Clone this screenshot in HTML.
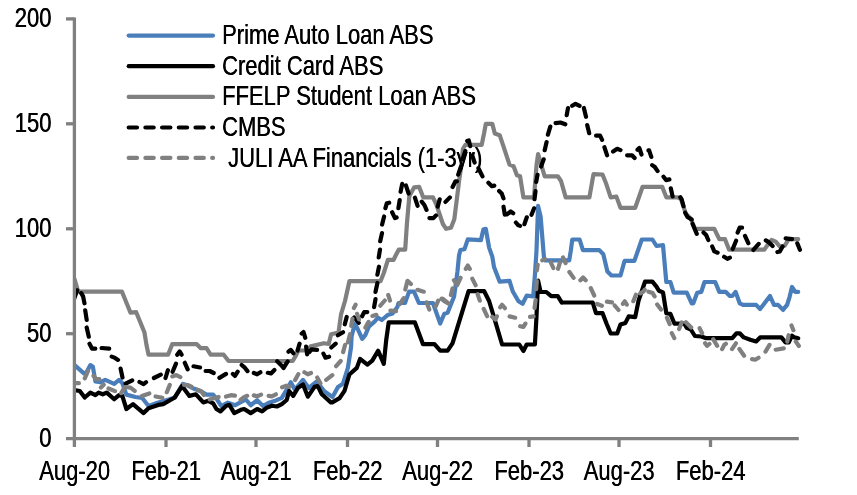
<!DOCTYPE html>
<html><head><meta charset="utf-8"><title>Spread chart</title>
<style>
html,body{margin:0;padding:0;background:#fff;}
svg{display:block;}
text{font-family:"Liberation Sans",Arial,sans-serif;font-size:26.8px;fill:#000;text-shadow:0.4px 0 0 #000;}
.ln{fill:none;stroke-width:4.2;stroke-linejoin:round;stroke-linecap:round;}
.ds{stroke-dasharray:8.3 8.4;}
</style></head><body>
<svg width="857" height="495" viewBox="0 0 857 495">
<rect width="857" height="495" fill="#fff"/>
<defs><clipPath id="plot"><rect x="73" y="0" width="784" height="440"/></clipPath></defs>
<g clip-path="url(#plot)">
<path class="ln" stroke="#4a7ebb" stroke-width="4.5" d="M74.6,365.1 L83.9,373.3 L86.4,372.5 L90.4,365.1 L92.9,366.8 L95.4,381.5 L100.3,382.3 L105.2,379.9 L114.2,383.9 L119.1,379.9 L122.3,383.1 L126.4,394.6 L135.4,397.0 L142.0,397.8 L148.5,406.0 L155.0,403.6 L174.7,397.8 L182.9,383.9 L187.8,385.6 L194.3,388.8 L200.8,391.3 L206.5,394.6 L213.1,394.6 L216.4,398.7 L221.3,406.0 L227.8,402.7 L235.2,405.2 L245.8,399.5 L250.7,405.2 L257.2,400.3 L263.0,406.0 L268.7,402.7 L274.4,401.1 L281.8,397.8 L286.7,389.7 L290.8,382.3 L294.9,389.7 L303.0,379.9 L308.8,388.0 L316.9,381.5 L324.3,391.3 L332.5,397.0 L338.0,387.0 L342.9,383.8 L347.8,368.2 L351.1,347.0 L351.6,336.4 L354.9,323.3 L358.1,329.9 L362.2,338.8 L365.5,334.8 L368.8,326.6 L374.5,321.7 L377.8,317.6 L381.8,320.0 L387.6,315.1 L392.5,313.5 L397.4,307.0 L398.5,303.0 L405.0,303.0 L409.1,291.6 L414.0,291.6 L418.9,303.0 L432.9,303.0 L440.2,323.5 L444.3,313.7 L447.6,312.8 L454.1,296.5 L457.4,272.0 L459.0,255.6 L460.4,250.0 L464.5,249.2 L467.8,239.4 L480.9,240.2 L483.3,229.6 L485.8,228.8 L489.1,247.6 L492.3,256.6 L494.0,267.0 L499.7,281.7 L509.5,280.9 L512.8,291.5 L518.5,301.3 L522.6,303.8 L526.7,295.6 L533.2,296.4 L534.9,275.1 L536.5,250.6 L538.1,205.9 L540.6,216.5 L543.9,256.6 L544.7,260.4 L569.2,260.4 L570.8,250.6 L572.3,239.5 L579.6,239.5 L582.9,250.1 L599.3,250.1 L603.3,254.2 L607.4,271.4 L611.5,275.5 L620.5,275.5 L624.6,260.8 L634.4,260.8 L641.8,239.5 L652.4,239.5 L656.5,246.0 L663.0,245.2 L666.3,282.0 L670.4,282.0 L673.7,292.7 L686.8,292.7 L691.7,303.3 L693.3,303.3 L697.2,292.7 L701.3,291.9 L704.5,282.0 L715.2,282.0 L719.3,291.9 L725.8,291.9 L729.9,296.0 L732.3,296.0 L735.6,291.9 L739.7,303.3 L743.0,304.9 L756.1,304.9 L760.1,309.0 L770.0,296.0 L774.0,304.9 L778.1,304.9 L783.0,309.9 L787.1,304.9 L789.6,296.8 L792.0,287.0 L795.3,291.9 L798.2,291.9"/>
<path class="ln" stroke="#000" stroke-width="4.7" d="M74.6,390.2 L79.8,391.0 L84.7,397.5 L90.4,392.6 L95.4,395.1 L98.6,392.6 L102.7,394.3 L106.8,392.6 L114.2,399.2 L119.1,395.1 L122.3,395.9 L126.4,409.0 L133.0,404.1 L143.6,413.1 L148.5,408.2 L158.3,404.9 L163.2,404.1 L174.7,397.5 L182.0,386.1 L189.4,395.9 L195.9,394.3 L203.3,402.4 L208.2,400.8 L213.1,403.3 L216.4,409.0 L220.4,411.4 L226.2,405.7 L229.4,404.9 L234.3,413.1 L240.9,409.8 L244.2,409.0 L250.7,413.1 L257.2,409.0 L262.1,411.4 L267.1,407.4 L272.0,405.7 L276.9,406.5 L281.8,404.1 L286.7,400.0 L289.1,391.0 L293.2,395.9 L298.1,387.7 L303.0,384.5 L307.9,396.7 L314.5,386.9 L317.8,386.1 L321.8,394.3 L330.8,402.4 L332.3,402.3 L339.6,398.2 L344.5,390.8 L349.4,374.5 L356.8,367.9 L360.1,358.9 L367.4,364.6 L372.3,360.6 L378.1,350.7 L383.8,363.8 L386.2,340.1 L388.7,322.4 L414.9,322.4 L423.0,344.2 L434.5,344.2 L440.2,350.7 L447.6,350.7 L452.5,343.4 L468.6,291.2 L484.2,291.2 L489.1,301.0 L494.8,319.9 L502.1,344.5 L519.3,344.5 L523.4,351.0 L526.7,344.5 L534.9,344.5 L536.5,316.7 L538.1,280.6 L540.6,292.0 L546.3,292.0 L551.2,296.1 L557.8,296.1 L561.8,302.6 L563.3,302.5 L592.7,302.5 L596.0,313.1 L602.5,313.1 L606.6,323.7 L610.7,333.5 L617.2,333.5 L620.5,324.6 L625.4,322.9 L628.7,316.4 L635.2,317.2 L638.5,300.8 L645.0,281.7 L652.4,281.7 L656.5,286.6 L658.9,290.7 L663.0,292.4 L666.3,313.1 L670.4,313.9 L674.5,323.7 L684.3,323.7 L686.8,327.8 L690.8,329.5 L694.9,336.0 L701.3,336.5 L706.2,338.2 L732.3,338.2 L736.4,333.3 L739.7,333.3 L743.8,337.4 L750.3,339.8 L756.1,341.4 L760.1,337.4 L781.4,337.4 L785.5,342.3 L788.8,342.3 L792.0,335.7 L794.5,337.4 L798.2,338.2"/>
<path class="ln" stroke="#808080" stroke-width="4.3" d="M74.5,279.0 L78.2,291.7 L122.0,291.7 L130.5,312.7 L136.2,312.2 L144.4,332.2 L146.5,345.0 L148.5,354.7 L168.1,354.7 L172.2,344.2 L196.8,344.2 L200.8,348.2 L206.5,348.2 L210.6,354.7 L223.7,354.7 L228.6,361.0 L292.7,361.0 L296.0,355.4 L298.4,350.5 L307.4,350.5 L310.7,346.4 L323.8,343.2 L328.7,344.0 L331.1,334.2 L338.5,332.5 L341.0,314.5 L345.0,301.0 L349.4,281.2 L380.5,281.2 L383.8,273.0 L387.9,259.9 L393.6,259.9 L395.4,256.0 L398.7,249.7 L405.2,249.7 L406.9,224.0 L409.3,196.3 L414.2,187.3 L419.1,186.8 L423.2,197.3 L433.0,197.3 L436.3,204.4 L442.9,224.0 L446.1,228.8 L451.0,227.8 L454.3,219.2 L456.8,199.5 L459.2,180.0 L461.3,165.4 L462.9,149.0 L465.4,144.8 L481.7,144.8 L484.2,132.7 L485.8,123.8 L492.3,123.8 L494.8,133.5 L499.7,135.2 L503.8,147.4 L509.5,164.6 L513.6,166.2 L516.9,175.2 L520.1,176.3 L523.4,197.3 L534.0,197.3 L536.5,165.4 L538.1,154.0 L541.4,165.4 L544.7,176.3 L557.8,176.3 L561.0,181.0 L565.7,197.3 L589.4,197.3 L593.5,174.2 L602.5,174.5 L605.8,182.7 L610.7,197.3 L616.4,196.6 L620.5,207.8 L635.2,207.8 L642.6,186.8 L662.2,186.8 L666.3,197.3 L677.8,197.3 L681.0,199.1 L685.9,213.8 L690.8,218.7 L694.9,228.8 L714.3,228.8 L719.3,239.2 L725.0,239.2 L729.1,249.7 L764.2,249.7 L768.3,244.1 L771.6,240.0 L775.7,241.6 L779.8,246.5 L784.7,245.7 L788.8,239.2 L798.2,239.2"/>
<path class="ln" stroke="#000" stroke-width="4.7" d="M73.6,300.4 L77.2,290.3 M81.2,293.1 L83.1,296.4 L84.5,303.3 M85.2,310.3 L86.7,320.0 M86.7,327.5 L88.8,336.7 M89.5,343.8 L92.1,348.7 L95.3,348.7 M101.6,348.0 L109.2,348.6 M111.7,356.6 L115.0,357.9 L118.0,359.9 M120.6,368.6 L122.5,377.5 M125.6,383.7 L132.2,380.4 M139.5,382.0 L143.6,384.1 L146.1,382.2 M153.9,378.0 L160.8,374.6 M165.5,378.0 L167.9,370.2 M172.6,371.8 L176.0,363.6 M177.2,354.7 L179.6,351.4 L181.6,354.7 M184.8,362.8 L187.7,369.3 M193.5,366.3 L200.0,367.5 M205.6,371.0 L209.6,371.0 L213.7,373.0 M219.4,377.9 L226.0,373.9 M232.9,374.0 L235.0,375.9 L237.7,371.7 M241.7,365.0 L244.8,367.7 L247.5,371.1 M253.8,373.0 L257.1,374.3 L260.4,372.3 M267.8,372.8 L271.0,373.4 L274.4,370.0 M277.2,361.2 L281.5,365.5 L283.5,368.0 L287.7,361.4 M288.5,351.7 L290.7,349.9 L293.4,353.3 M297.5,350.6 L299.6,343.7 M301.7,333.5 L303.5,332.0 L305.3,337.8 M306.1,346.6 L307.1,354.3 M309.4,352.1 L311.4,349.4 L317.1,349.8 M323.4,353.6 L325.5,357.7 L329.1,356.7 M331.3,347.5 L335.7,343.7 M337.9,335.3 L343.0,332.2 M344.8,324.3 L346.7,317.0 M354.2,317.6 L356.8,320.3 L358.7,322.8 M362.1,316.2 L364.2,312.1 L367.3,312.1 M374.1,307.1 L375.5,299.1 M375.5,291.9 L377.4,283.0 M377.4,274.7 L379.0,266.7 M378.7,257.5 L380.0,249.5 M380.2,241.2 L382.0,233.1 M382.1,224.5 L384.1,216.5 M385.4,208.2 L386.8,203.3 L389.2,202.7 M392.1,212.3 L395.0,218.1 L396.6,217.5 M398.4,208.2 L399.7,200.1 M400.6,191.8 L402.2,183.8 M405.9,185.4 L408.6,193.5 M414.9,197.7 L417.6,205.8 M421.7,201.6 L424.4,205.0 L426.5,209.9 M429.4,218.1 L433.4,218.1 L436.0,215.4 M437.7,206.6 L439.7,199.3 M445.5,201.9 L449.9,197.4 M452.6,187.0 L455.5,181.3 L457.0,181.3 M458.2,174.7 L460.9,166.6 M462.6,159.2 L465.3,151.1 M467.2,141.0 L468.8,140.4 L470.2,146.1 M472.4,156.0 L474.6,162.5 M478.4,168.2 L482.5,176.4 M488.4,182.7 L491.9,186.2 L494.3,185.6 M499.1,190.9 L501.7,193.5 L503.5,198.4 M503.5,206.7 L504.8,214.7 M507.3,214.2 L510.7,211.5 L513.2,213.2 M515.9,222.5 L518.1,225.1 L520.0,225.9 M524.4,224.2 L525.4,221.3 L526.8,217.3 M531.5,214.8 L534.1,208.3 M534.5,199.2 L535.5,191.2 M536.2,182.0 L537.5,174.8 M541.1,166.6 L543.7,159.3 M544.7,150.2 L546.6,142.1 M547.9,134.7 L550.3,126.6 M555.6,123.1 L560.4,122.5 L565.3,124.3 M566.7,115.2 L568.0,108.0 M572.2,105.8 L575.5,103.8 L579.6,105.9 M583.9,108.0 L586.0,116.8 M587.2,125.1 L589.2,133.2 M596.1,135.7 L600.1,135.7 L602.1,139.8 M604.4,147.2 L607.1,155.3 M613.1,151.6 L617.2,148.8 L620.5,150.1 M627.1,155.3 L632.0,155.3 L634.6,158.0 M637.5,149.8 L639.3,148.0 L641.5,154.5 M648.4,150.4 L649.1,150.4 L651.3,156.9 M652.2,165.1 L654.8,167.0 L657.6,171.1 M663.5,176.7 L666.2,180.1 L669.4,179.4 M670.8,188.3 L672.6,196.4 M680.3,197.2 L681.8,199.7 L683.5,206.2 M685.2,212.7 L687.5,216.9 L691.7,219.6 M692.6,224.0 L696.8,233.8 M703.5,232.4 L706.2,235.1 L708.3,240.0 M712.2,246.5 L714.3,251.4 L717.6,252.7 M724.1,256.8 L727.4,258.8 L729.9,257.6 M732.7,249.0 L736.1,240.8 M737.6,232.6 L739.7,227.7 L742.1,227.7 M745.0,235.9 L748.3,243.2 M753.4,249.9 L758.7,243.9 M765.8,240.4 L769.1,242.4 L772.6,245.9 M777.4,252.0 L779.8,251.4 L782.6,246.5 M785.6,238.4 L792.0,239.1 M797.3,243.3 L799.9,249.8"/>
<path class="ln" stroke="#808080" stroke-width="4.3" d="M74.2,383.2 L78.9,383.2 M84.8,378.3 L88.0,371.0 M93.5,375.8 L96.2,379.2 L99.4,379.2 M100.9,387.5 L103.7,384.7 M108.5,388.5 L115.0,391.1 M121.2,393.1 L124.8,387.0 L130.5,387.7 L134.7,390.9 M142.0,396.0 L149.3,393.4 M155.6,396.5 L162.3,397.8 M166.8,392.2 L169.8,384.9 M172.3,376.4 L176.3,375.1 L180.4,377.1 M184.1,384.9 L187.5,385.0 L191.5,386.7 M197.7,389.8 L201.5,391.5 L203.9,395.0 M326.2,379.9 L332.3,375.1 M209.7,399.4 L214.5,398.0 L218.6,397.0 M226.0,396.6 L230.9,395.2 L234.9,395.7 M240.6,399.9 L244.0,397.1 L247.2,395.8 M253.8,395.4 L257.1,396.3 L261.1,394.6 M268.6,395.9 L271.8,396.3 L275.9,394.3 M282.1,387.3 L286.5,385.7 L289.7,386.7 M295.1,380.0 L298.3,374.2 M304.4,372.3 L307.8,374.3 L311.0,373.0 M317.2,377.5 L320.4,383.3 M336.1,366.2 L340.7,361.0 M343.1,352.1 L345.1,344.8 M348.0,342.3 L350.0,334.2 M351.2,325.9 L352.5,318.7 M353.9,308.0 L355.6,304.7 M357.1,313.8 L359.0,319.4 M365.4,327.6 L368.6,321.9 M372.4,315.9 L376.4,314.8 M380.3,305.7 L384.8,300.5 M388.2,294.9 L390.0,300.6 M390.4,310.5 L396.0,311.2 M399.8,304.0 L403.7,298.1 M426.6,302.3 L429.3,309.6 M435.7,306.4 L438.2,300.6 M442.6,298.7 L448.5,303.3 M405.3,289.5 L407.5,280.8 L410.9,284.0 M417.4,289.8 L423.8,291.7 M441.5,298.8 L444.9,301.5 L448.2,303.5 M450.9,294.9 L452.5,288.5 M453.9,280.2 L457.2,285.2 L460.6,277.8 M465.8,268.9 L467.8,265.5 L469.8,268.9 M472.3,278.6 L475.6,285.2 M477.6,294.2 L479.8,300.7 M483.7,308.9 L487.1,316.2 M492.2,316.8 L495.6,319.5 L496.9,316.3 M500.2,307.3 L502.1,304.8 L504.9,308.2 M509.6,316.4 L515.2,317.7 M520.2,326.2 L523.4,326.9 L525.4,323.6 M530.0,316.9 L533.6,316.4 M534.6,308.0 L535.6,300.0 M536.2,289.2 L536.8,281.2 M536.9,270.4 L537.7,264.8 M542.3,260.3 L545.5,259.3 M550.8,262.3 L553.3,268.0 M558.0,268.8 L560.0,262.3 M563.0,257.4 L565.6,263.1 M569.4,272.0 L573.6,277.9 M580.4,280.2 L583.1,277.5 L585.7,280.2 M590.8,288.2 L594.2,295.5 M597.0,304.0 L601.9,305.8 M606.9,301.7 L612.0,302.4 M614.7,305.5 L618.5,310.0 M622.9,303.8 L624.8,301.3 L626.8,304.6 M633.3,301.2 L635.9,294.7 M640.3,293.4 L643.6,291.4 L644.7,289.7 M648.5,291.7 L652.6,293.1 L654.6,296.4 M657.2,304.4 L661.0,309.5 M666.9,317.6 L669.7,324.1 M671.8,333.1 L674.3,338.1 M679.1,329.0 L681.7,322.5 M685.9,322.3 L691.2,327.6 M699.6,328.2 L702.1,333.2 M705.1,343.2 L707.0,345.8 L709.5,343.9 M713.2,339.2 L717.2,345.8 M722.1,349.1 L724.2,345.0 L725.9,343.8 M732.0,349.1 L735.9,343.3 M739.4,349.0 L744.1,355.7 M752.0,359.1 L755.2,359.7 L758.6,357.7 M765.5,351.6 L769.5,344.9 M775.7,349.7 L783.8,348.4 M787.3,341.6 L788.6,335.2 M791.5,325.4 L793.4,330.2 M795.8,341.6 L798.9,345.9"/>
</g>
<g stroke="#808080" stroke-width="3.3" fill="none">
<path d="M74.4,17.4 V447"/>
<path d="M66,438.6 H798.8"/>
<path d="M66,333.7 H74.4"/>
<path d="M66,228.8 H74.4"/>
<path d="M66,123.8 H74.4"/>
<path d="M66,18.9 H74.4"/>
<path d="M166.0,438.6 V447"/>
<path d="M256.0,438.6 V447"/>
<path d="M347.5,438.6 V447"/>
<path d="M437.5,438.6 V447"/>
<path d="M529.0,438.6 V447"/>
<path d="M619.0,438.6 V447"/>
<path d="M710.5,438.6 V447"/>
</g>
<text transform="translate(51.3,447.1) scale(0.821,1)" text-anchor="end">0</text>
<text transform="translate(51.3,342.2) scale(0.821,1)" text-anchor="end">50</text>
<text transform="translate(51.3,237.3) scale(0.821,1)" text-anchor="end">100</text>
<text transform="translate(51.3,132.3) scale(0.821,1)" text-anchor="end">150</text>
<text transform="translate(51.3,27.4) scale(0.821,1)" text-anchor="end">200</text>
<text transform="translate(74.5,479.8) scale(0.821,1)" text-anchor="middle">Aug-20</text>
<text transform="translate(166.0,479.8) scale(0.821,1)" text-anchor="middle">Feb-21</text>
<text transform="translate(256.0,479.8) scale(0.821,1)" text-anchor="middle">Aug-21</text>
<text transform="translate(347.5,479.8) scale(0.821,1)" text-anchor="middle">Feb-22</text>
<text transform="translate(437.5,479.8) scale(0.821,1)" text-anchor="middle">Aug-22</text>
<text transform="translate(529.0,479.8) scale(0.821,1)" text-anchor="middle">Feb-23</text>
<text transform="translate(619.0,479.8) scale(0.821,1)" text-anchor="middle">Aug-23</text>
<text transform="translate(710.5,479.8) scale(0.821,1)" text-anchor="middle">Feb-24</text>
<path class="ln" stroke="#4a7ebb" stroke-width="4.5" d="M128.7,35.6 H213"/>
<text transform="translate(221.9,44.1) scale(0.821,1)" text-anchor="start">Prime Auto Loan ABS</text>
<path class="ln" stroke="#000" stroke-width="4.7" d="M128.7,66.2 H213"/>
<text transform="translate(221.9,74.7) scale(0.821,1)" text-anchor="start">Credit Card ABS</text>
<path class="ln" stroke="#808080" stroke-width="4.3" d="M128.7,96.9 H213"/>
<text transform="translate(221.9,105.3) scale(0.821,1)" text-anchor="start">FFELP Student Loan ABS</text>
<path class="ln ds" stroke="#000" stroke-width="4.7" d="M128.7,127.5 H213"/>
<text transform="translate(221.9,136.0) scale(0.821,1)" text-anchor="start">CMBS</text>
<path class="ln ds" stroke="#808080" stroke-width="4.3" d="M128.7,157.9 H213"/>
<text transform="translate(228.0,166.8) scale(0.821,1)" text-anchor="start">JULI AA Financials (1-3yr)</text>
</svg></body></html>
